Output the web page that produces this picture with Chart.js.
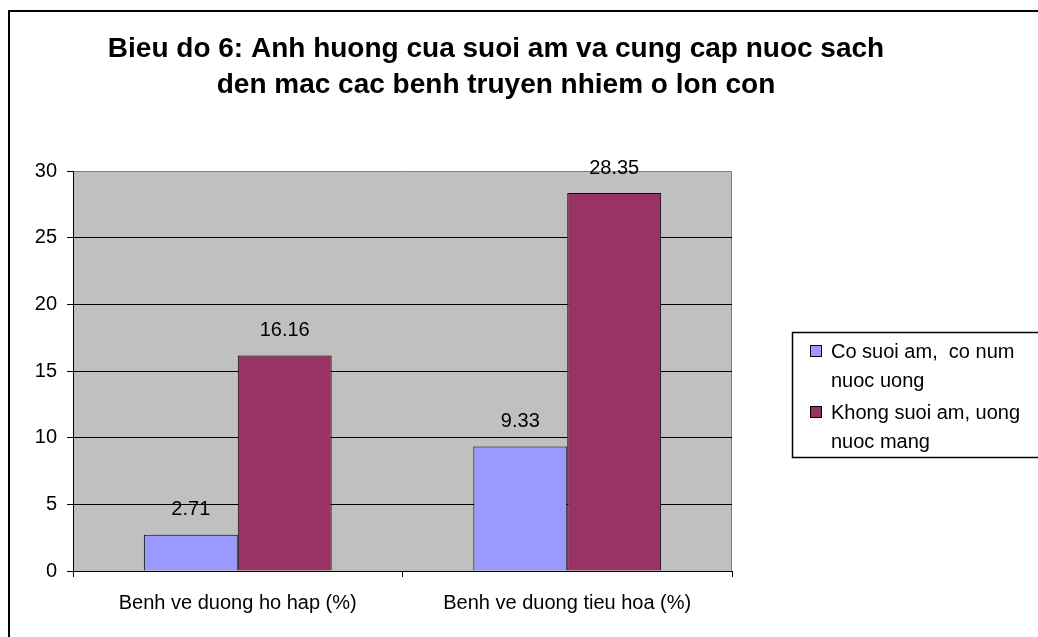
<!DOCTYPE html>
<html>
<head>
<meta charset="utf-8">
<script src="https://cdn.jsdelivr.net/npm/chart.js@4/dist/chart.umd.min.js"></script>
<style>
  html, body { margin: 0; padding: 0; background: #fff; }
  #wrap { width: 1038px; height: 637px; }
</style>
</head>
<body>
<div id="wrap"><canvas id="myChart" width="1038" height="637"></canvas></div>
<script>
// datos del grafico
var categorias = ['Benh ve duong ho hap (%)', 'Benh ve duong tieu hoa (%)'];
var coSuoiAm = [2.71, 9.33];
var khongSuoiAm = [16.16, 28.35];
var nombresSeries = [['Co suoi am,  co num', 'nuoc uong'], ['Khong suoi am, uong', 'nuoc mang']];
var titulo = ['Bieu do 6: Anh huong cua suoi am va cung cap nuoc sach', 'den mac cac benh truyen nhiem o lon con'];
var ticksY = [0, 5, 10, 15, 20, 25, 30];

var FUENTE = '"Liberation Sans", Arial, sans-serif';
var colores = ['#9999FF', '#993366'];

// fondo gris del area de grafico + marco exterior
var fondoPlugin = {
    id: 'fondo',
    beforeDraw: function (chart) {
        var ctx = chart.ctx, a = chart.chartArea;
        ctx.save();
        ctx.fillStyle = '#fff';
        ctx.fillRect(0, 0, chart.width, chart.height);
        // marco exterior (solo izquierda y arriba visibles)
        ctx.strokeStyle = '#000';
        ctx.lineWidth = 2;
        ctx.beginPath();
        ctx.moveTo(9, chart.height);
        ctx.lineTo(9, 11);
        ctx.lineTo(chart.width, 11);
        ctx.stroke();
        ctx.fillStyle = '#C0C0C0';
        ctx.fillRect(a.left, a.top, a.right - a.left, a.bottom - a.top);
        ctx.strokeStyle = '#808080';
        ctx.lineWidth = 1;
        ctx.beginPath();
        ctx.moveTo(a.left, a.top + 0.5);
        ctx.lineTo(a.right - 0.5, a.top + 0.5);
        ctx.lineTo(a.right - 0.5, a.bottom);
        ctx.stroke();
        ctx.restore();
    },
    // titulo centrado sobre todo el grafico (no solo el area de barras)
    afterDraw: function (chart) {
        var ctx = chart.ctx;
        ctx.save();
        ctx.font = 'bold 28px ' + FUENTE;
        ctx.fillStyle = '#000';
        ctx.textAlign = 'center';
        ctx.textBaseline = 'alphabetic';
        titulo.forEach(function (t, i) {
            ctx.fillText(t, 496, 57 + i * 36);
        });
        ctx.restore();
    }
};

// etiquetas de valor encima de cada barra
var etiquetasPlugin = {
    id: 'etiquetas',
    afterDatasetsDraw: function (chart) {
        var ctx = chart.ctx;
        ctx.save();
        ctx.font = '20px ' + FUENTE;
        ctx.fillStyle = '#000';
        ctx.textAlign = 'center';
        ctx.textBaseline = 'middle';
        chart.data.datasets.forEach(function (ds, i) {
            chart.getDatasetMeta(i).data.forEach(function (bar, j) {
                ctx.fillText(ds.data[j].toFixed(2), bar.x, bar.y - 25);
            });
        });
        ctx.restore();
    }
};

// leyenda con recuadro
var leyendaPlugin = {
    id: 'leyenda',
    afterDraw: function (chart) {
        var ctx = chart.ctx;
        ctx.save();
        ctx.strokeStyle = '#000';
        ctx.lineWidth = 1.5;
        ctx.strokeRect(792.5, 332.5, 260, 125);
        ctx.font = '20px ' + FUENTE;
        ctx.textBaseline = 'middle';
        ctx.textAlign = 'left';
        var yItems = [352, 413];
        nombresSeries.forEach(function (lineas, i) {
            var y = yItems[i];
            ctx.fillStyle = colores[i];
            ctx.fillRect(810.5, y - 6.5, 11, 11);
            ctx.lineWidth = 1;
            ctx.strokeRect(810.5, y - 6.5, 11, 11);
            ctx.fillStyle = '#000';
            lineas.forEach(function (t, k) {
                ctx.fillText(t, 831, y + k * 29);
            });
        });
        ctx.restore();
    }
};

var ctx = document.getElementById('myChart').getContext('2d');
new Chart(ctx, {
    type: 'bar',
    data: {
        labels: categorias,
        datasets: [{
                label: nombresSeries[0].join(' '),
                data: coSuoiAm,
                backgroundColor: colores[0],
                borderColor: '#000',
                borderWidth: 1
            },
            {
                label: nombresSeries[1].join(' '),
                data: khongSuoiAm,
                backgroundColor: colores[1],
                borderColor: '#000',
                borderWidth: 1
            }
        ]
    },
    options: {
        responsive: false,
        animation: false,
        events: [],
        layout: {
            padding: {top: 171, right: 306, bottom: 0, left: 0}
        },
        datasets: {
            bar: {
                categoryPercentage: 0.57,
                barPercentage: 1.0
            }
        },
        plugins: {
            legend: {display: false},
            tooltip: {enabled: false},
            title: {display: false}
        },
        scales: {
            x: {
                grid: {
                    drawOnChartArea: false,
                    offset: true,
                    color: '#000',
                    tickLength: 6
                },
                border: {color: '#000', width: 1},
                ticks: {
                    color: '#000',
                    font: {family: FUENTE, size: 20},
                    padding: 14,
                    maxRotation: 0
                },
                afterFit: function (scale) {
                    scale.height = 66;
                }
            },
            y: {
                min: 0,
                max: 30,
                afterBuildTicks: function (scale) {
                    scale.ticks = ticksY.map(function (v) { return {value: v}; });
                },
                grid: {
                    color: function (c) {
                        return (c.tick && c.tick.value === 30) ? 'rgba(0,0,0,0)' : '#000';
                    },
                    tickColor: '#000',
                    lineWidth: 1,
                    tickLength: 6
                },
                border: {color: '#000', width: 1},
                ticks: {
                    color: '#000',
                    font: {family: FUENTE, size: 20},
                    padding: 10
                },
                afterFit: function (scale) {
                    scale.width = 73;
                }
            }
        }
    },
    plugins: [fondoPlugin, etiquetasPlugin, leyendaPlugin]
});
</script>
</body>
</html>
